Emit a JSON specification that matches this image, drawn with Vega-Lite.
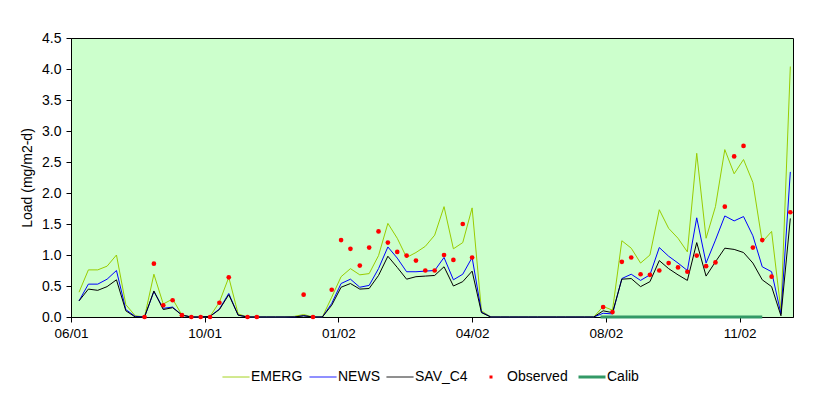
{
  "$schema": "https://vega.github.io/schema/vega-lite/v6.json",
  "width": 722,
  "height": 279,
  "autosize": {"type": "none"},
  "padding": {"left": 71, "top": 38, "right": 36, "bottom": 79},
  "background": "white",
  "config": {
    "view": {"fill": "#CCFFCC", "stroke": "#000000", "strokeWidth": 1},
    "font": "Liberation Sans",
    "axis": {"labelFont": "Liberation Sans", "labelFontSize": 13.5, "labelColor": "#000000", "titleFont": "Liberation Sans", "titleFontSize": 14, "titleFontWeight": "normal", "titleColor": "#000000", "domainColor": "#000000", "tickColor": "#000000", "grid": false, "tickSize": 5, "labelFlush": false}
  },
  "datasets": {
    "weekly": [
      {"date": "2001-07-04", "EMERG": 0.40, "NEWS": 0.26, "SAV_C4": 0.26},
      {"date": "2001-07-11", "EMERG": 0.76, "NEWS": 0.53, "SAV_C4": 0.45},
      {"date": "2001-07-18", "EMERG": 0.76, "NEWS": 0.53, "SAV_C4": 0.43},
      {"date": "2001-07-25", "EMERG": 0.82, "NEWS": 0.61, "SAV_C4": 0.49},
      {"date": "2001-08-01", "EMERG": 1.00, "NEWS": 0.75, "SAV_C4": 0.60},
      {"date": "2001-08-08", "EMERG": 0.20, "NEWS": 0.12, "SAV_C4": 0.10},
      {"date": "2001-08-15", "EMERG": 0.02, "NEWS": 0.01, "SAV_C4": 0.00},
      {"date": "2001-08-22", "EMERG": 0, "NEWS": 0, "SAV_C4": 0, "Observed": 0},
      {"date": "2001-08-29", "EMERG": 0.69, "NEWS": 0.41, "SAV_C4": 0.42, "Observed": 0.86},
      {"date": "2001-09-05", "EMERG": 0.21, "NEWS": 0.14, "SAV_C4": 0.12, "Observed": 0.19},
      {"date": "2001-09-12", "EMERG": 0.29, "NEWS": 0.16, "SAV_C4": 0.15, "Observed": 0.27},
      {"date": "2001-09-19", "EMERG": 0.03, "NEWS": 0.03, "SAV_C4": 0.03, "Observed": 0.03},
      {"date": "2001-09-26", "EMERG": 0, "NEWS": 0, "SAV_C4": 0, "Observed": 0},
      {"date": "2001-10-03", "EMERG": 0, "NEWS": 0, "SAV_C4": 0, "Observed": 0},
      {"date": "2001-10-10", "EMERG": 0.01, "NEWS": 0.01, "SAV_C4": 0.01, "Observed": 0},
      {"date": "2001-10-17", "EMERG": 0.24, "NEWS": 0.13, "SAV_C4": 0.12, "Observed": 0.23},
      {"date": "2001-10-24", "EMERG": 0.64, "NEWS": 0.38, "SAV_C4": 0.36, "Observed": 0.64},
      {"date": "2001-10-31", "EMERG": 0.05, "NEWS": 0.03, "SAV_C4": 0.03},
      {"date": "2001-11-07", "EMERG": 0, "NEWS": 0, "SAV_C4": 0, "Observed": 0},
      {"date": "2001-11-14", "EMERG": 0, "NEWS": 0, "SAV_C4": 0, "Observed": 0},
      {"date": "2001-11-21", "EMERG": 0, "NEWS": 0, "SAV_C4": 0},
      {"date": "2001-11-28", "EMERG": 0, "NEWS": 0, "SAV_C4": 0},
      {"date": "2001-12-05", "EMERG": 0, "NEWS": 0, "SAV_C4": 0},
      {"date": "2001-12-12", "EMERG": 0.01, "NEWS": 0, "SAV_C4": 0},
      {"date": "2001-12-19", "EMERG": 0.04, "NEWS": 0.02, "SAV_C4": 0.02, "Observed": 0.36},
      {"date": "2001-12-26", "EMERG": 0, "NEWS": 0, "SAV_C4": 0, "Observed": 0},
      {"date": "2002-01-02", "EMERG": 0, "NEWS": 0, "SAV_C4": 0},
      {"date": "2002-01-09", "EMERG": 0.32, "NEWS": 0.22, "SAV_C4": 0.19, "Observed": 0.44},
      {"date": "2002-01-16", "EMERG": 0.65, "NEWS": 0.54, "SAV_C4": 0.48, "Observed": 1.24},
      {"date": "2002-01-23", "EMERG": 0.78, "NEWS": 0.61, "SAV_C4": 0.54, "Observed": 1.10},
      {"date": "2002-01-30", "EMERG": 0.68, "NEWS": 0.48, "SAV_C4": 0.45, "Observed": 0.83},
      {"date": "2002-02-06", "EMERG": 0.70, "NEWS": 0.51, "SAV_C4": 0.46, "Observed": 1.12},
      {"date": "2002-02-13", "EMERG": 0.99, "NEWS": 0.78, "SAV_C4": 0.67, "Observed": 1.38},
      {"date": "2002-02-20", "EMERG": 1.51, "NEWS": 1.13, "SAV_C4": 0.98, "Observed": 1.20},
      {"date": "2002-02-27", "EMERG": 1.27, "NEWS": 0.95, "SAV_C4": 0.80, "Observed": 1.05},
      {"date": "2002-03-06", "EMERG": 0.96, "NEWS": 0.73, "SAV_C4": 0.61, "Observed": 0.99},
      {"date": "2002-03-13", "EMERG": 1.04, "NEWS": 0.73, "SAV_C4": 0.65, "Observed": 0.91},
      {"date": "2002-03-20", "EMERG": 1.14, "NEWS": 0.74, "SAV_C4": 0.66, "Observed": 0.75},
      {"date": "2002-03-27", "EMERG": 1.32, "NEWS": 0.75, "SAV_C4": 0.67, "Observed": 0.75},
      {"date": "2002-04-03", "EMERG": 1.78, "NEWS": 0.96, "SAV_C4": 0.81, "Observed": 1.00},
      {"date": "2002-04-10", "EMERG": 1.10, "NEWS": 0.60, "SAV_C4": 0.50, "Observed": 0.92},
      {"date": "2002-04-17", "EMERG": 1.20, "NEWS": 0.69, "SAV_C4": 0.57, "Observed": 1.50},
      {"date": "2002-04-24", "EMERG": 1.76, "NEWS": 0.96, "SAV_C4": 0.74, "Observed": 0.96},
      {"date": "2002-05-01", "EMERG": 0.10, "NEWS": 0.08, "SAV_C4": 0.07},
      {"date": "2002-05-08", "EMERG": 0, "NEWS": 0, "SAV_C4": 0},
      {"date": "2002-05-15", "EMERG": 0, "NEWS": 0, "SAV_C4": 0},
      {"date": "2002-05-22", "EMERG": 0, "NEWS": 0, "SAV_C4": 0},
      {"date": "2002-05-29", "EMERG": 0, "NEWS": 0, "SAV_C4": 0},
      {"date": "2002-06-05", "EMERG": 0, "NEWS": 0, "SAV_C4": 0},
      {"date": "2002-06-12", "EMERG": 0, "NEWS": 0, "SAV_C4": 0},
      {"date": "2002-06-19", "EMERG": 0, "NEWS": 0, "SAV_C4": 0},
      {"date": "2002-06-26", "EMERG": 0, "NEWS": 0, "SAV_C4": 0},
      {"date": "2002-07-03", "EMERG": 0, "NEWS": 0, "SAV_C4": 0},
      {"date": "2002-07-10", "EMERG": 0, "NEWS": 0, "SAV_C4": 0},
      {"date": "2002-07-17", "EMERG": 0, "NEWS": 0, "SAV_C4": 0},
      {"date": "2002-07-24", "EMERG": 0, "NEWS": 0, "SAV_C4": 0},
      {"date": "2002-07-31", "EMERG": 0.17, "NEWS": 0.06, "SAV_C4": 0.10, "Observed": 0.16},
      {"date": "2002-08-07", "EMERG": 0.11, "NEWS": 0.05, "SAV_C4": 0.07, "Observed": 0.08},
      {"date": "2002-08-14", "EMERG": 1.23, "NEWS": 0.62, "SAV_C4": 0.61, "Observed": 0.89},
      {"date": "2002-08-21", "EMERG": 1.11, "NEWS": 0.69, "SAV_C4": 0.62, "Observed": 0.96},
      {"date": "2002-08-28", "EMERG": 0.87, "NEWS": 0.59, "SAV_C4": 0.49, "Observed": 0.69},
      {"date": "2002-09-04", "EMERG": 1.00, "NEWS": 0.68, "SAV_C4": 0.57, "Observed": 0.68},
      {"date": "2002-09-11", "EMERG": 1.73, "NEWS": 1.12, "SAV_C4": 0.91, "Observed": 0.75},
      {"date": "2002-09-18", "EMERG": 1.43, "NEWS": 0.98, "SAV_C4": 0.78, "Observed": 0.87},
      {"date": "2002-09-25", "EMERG": 1.27, "NEWS": 0.87, "SAV_C4": 0.68, "Observed": 0.80},
      {"date": "2002-10-02", "EMERG": 1.05, "NEWS": 0.75, "SAV_C4": 0.59, "Observed": 0.73},
      {"date": "2002-10-09", "EMERG": 2.64, "NEWS": 1.60, "SAV_C4": 1.20, "Observed": 0.99},
      {"date": "2002-10-16", "EMERG": 1.27, "NEWS": 0.87, "SAV_C4": 0.66, "Observed": 0.82},
      {"date": "2002-10-23", "EMERG": 1.78, "NEWS": 1.24, "SAV_C4": 0.89, "Observed": 0.88},
      {"date": "2002-10-30", "EMERG": 2.70, "NEWS": 1.63, "SAV_C4": 1.11, "Observed": 1.78},
      {"date": "2002-11-06", "EMERG": 2.31, "NEWS": 1.55, "SAV_C4": 1.09, "Observed": 2.59},
      {"date": "2002-11-13", "EMERG": 2.54, "NEWS": 1.62, "SAV_C4": 1.04, "Observed": 2.76},
      {"date": "2002-11-20", "EMERG": 2.17, "NEWS": 1.31, "SAV_C4": 0.87, "Observed": 1.12},
      {"date": "2002-11-27", "EMERG": 1.21, "NEWS": 0.81, "SAV_C4": 0.60, "Observed": 1.24},
      {"date": "2002-12-04", "EMERG": 1.38, "NEWS": 0.73, "SAV_C4": 0.49, "Observed": 0.65},
      {"date": "2002-12-11", "EMERG": 0.10, "NEWS": 0.05, "SAV_C4": 0.02},
      {"date": "2002-12-18", "EMERG": 4.04, "NEWS": 2.34, "SAV_C4": 1.59, "Observed": 1.69}
    ],
    "calib": [
      {"date": "2002-07-29", "Calib": 0},
      {"date": "2002-11-27", "Calib": 0}
    ]
  },
  "encoding": {
    "x": {
      "field": "date", "type": "temporal",
      "scale": {"type": "utc", "domain": [{"year": 2001, "month": 6, "date": 28, "utc": true}, {"year": 2002, "month": 12, "date": 20, "utc": true}]},
      "axis": {
        "title": null, "format": "%m/%y", "labelPadding": 4, "labelFlush": false, "labelAlign": "center", "labelOverlap": false,
        "values": [
          {"year": 2001, "month": 6, "date": 28, "utc": true},
          {"year": 2001, "month": 10, "date": 6, "utc": true},
          {"year": 2002, "month": 1, "date": 14, "utc": true},
          {"year": 2002, "month": 4, "date": 24, "utc": true},
          {"year": 2002, "month": 8, "date": 2, "utc": true},
          {"year": 2002, "month": 11, "date": 10, "utc": true}
        ]
      }
    },
    "y": {
      "field": "load", "type": "quantitative",
      "scale": {"domain": [0, 4.5], "nice": false},
      "axis": {"title": "Load (mg/m2-d)", "format": ".1f", "values": [0, 0.5, 1, 1.5, 2, 2.5, 3, 3.5, 4, 4.5], "labelFontSize": 14, "labelPadding": 5, "titlePadding": 7}
    },
    "color": {
      "field": "series", "type": "nominal",
      "scale": {"domain": ["EMERG", "NEWS", "SAV_C4", "Observed", "Calib"], "range": ["#99CC00", "#0000FF", "#000000", "#FF0000", "#339966"]},
      "legend": {
        "title": null, "orient": "none", "legendX": 158, "legendY": 332, "direction": "horizontal", "columns": 5,
        "symbolType": "stroke", "symbolSize": 729, "symbolStrokeWidth": 1,
        "labelFont": "Liberation Sans", "labelFontSize": 14, "labelColor": "#000000", "labelOffset": 8, "columnPadding": 4, "padding": 0,
        "encode": {
          "symbols": {
            "update": {
              "shape": {"value": "stroke"},
              "size": {"value": 729},
              "strokeCap": {"value": "butt"},
              "strokeWidth": {"signal": "datum.value === 'Calib' ? 3 : (datum.value === 'Observed' ? 3 : 1)"},
              "strokeDash": {"signal": "datum.value === 'Observed' ? [0, 11, 3, 100] : [1, 0]"},
              "fill": {"value": "transparent"}
            }
          }
        }
      }
    }
  },
  "layer": [
    {
      "data": {"name": "weekly"},
      "transform": [{"fold": ["EMERG", "NEWS", "SAV_C4"], "as": ["series", "load"]}],
      "mark": {"type": "line", "strokeWidth": 1}
    },
    {
      "data": {"name": "weekly"},
      "transform": [{"fold": ["Observed"], "as": ["series", "load"]}, {"filter": "isValid(datum.load)"}],
      "mark": {"type": "circle", "size": 22, "opacity": 1}
    },
    {
      "data": {"name": "calib"},
      "transform": [{"fold": ["Calib"], "as": ["series", "load"]}],
      "mark": {"type": "line", "strokeWidth": 3}
    }
  ]
}
